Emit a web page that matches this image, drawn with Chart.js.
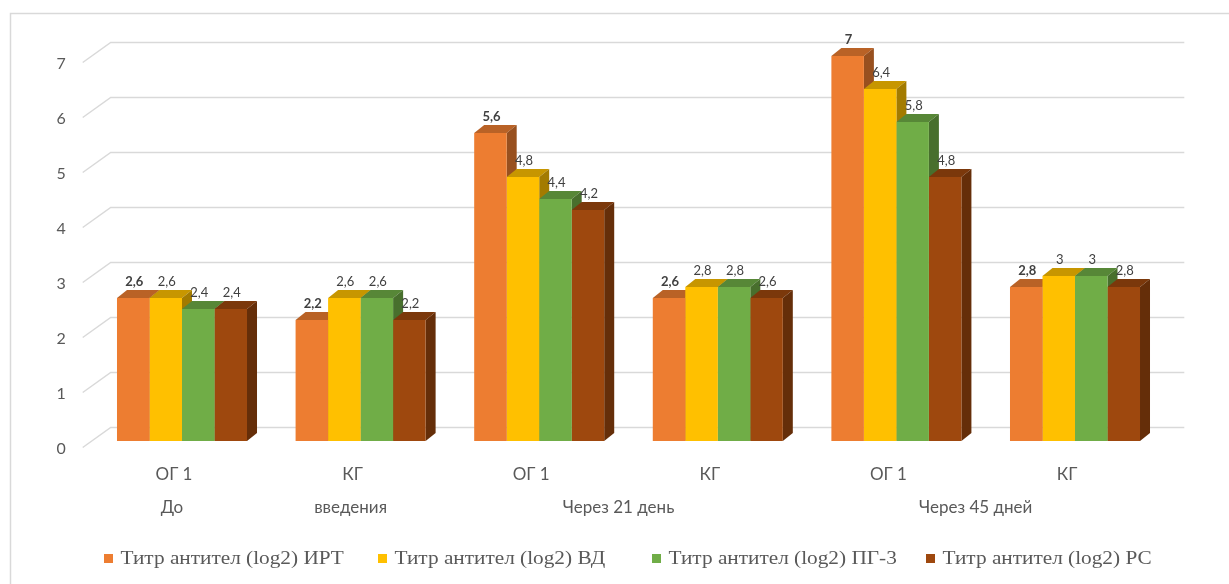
<!DOCTYPE html>
<html>
<head>
<meta charset="utf-8">
<script src="https://cdn.jsdelivr.net/npm/chart.js@4.4.1/dist/chart.umd.min.js"></script>
<style>
  html, body { margin: 0; padding: 0; background: #fff; }
  #wrap { width: 1229px; height: 584px; }
</style>
</head>
<body>
<div id="wrap"><canvas id="chart" width="1229" height="584"></canvas></div>
<script>
// Categories (groups of bars) and the period row underneath them
const categories = ['ОГ 1', 'КГ', 'ОГ 1', 'КГ', 'ОГ 1', 'КГ'];
const periodLabels = ['До', 'введения', 'Через 21 день', 'Через 45 дней'];
const periodSpans = [[0, 0], [1, 1], [2, 3], [4, 5]];

// Series
const seriesNames = [
  'Титр антител (log2) ИРТ',
  'Титр антител (log2) ВД',
  'Титр антител (log2) ПГ-3',
  'Титр антител (log2) РС'
];
const titerIRT = [2.6, 2.2, 5.6, 2.6, 7, 2.8];
const titerVD  = [2.6, 2.6, 4.8, 2.8, 6.4, 3];
const titerPG3 = [2.4, 2.6, 4.4, 2.8, 5.8, 3];
const titerRS  = [2.4, 2.2, 4.2, 2.6, 4.8, 2.8];

// Value axis ticks
const yTicks = [0, 1, 2, 3, 4, 5, 6, 7];

const seriesColors = ['#ED7D31', '#FFC000', '#70AD47', '#9E480E'];
const seriesValues = [titerIRT, titerVD, titerPG3, titerRS];

const AXIS_FONT = "Lato, 'Noto Sans', sans-serif";
const LEGEND_FONT = "19px 'Liberation Serif', 'Times New Roman', serif";
const TEXT_GRAY = '#595959';
const GRID_GRAY = '#d9d9d9';
const DX = 10, DY = 8;   // extrusion of the box-shaped bars

function shade(hex, f) {
  const n = parseInt(hex.slice(1), 16);
  const r = Math.round(((n >> 16) & 255) * f);
  const g = Math.round(((n >> 8) & 255) * f);
  const b = Math.round((n & 255) * f);
  return `rgb(${r},${g},${b})`;
}
function fmt(v) { return String(v).replace('.', ','); }

const boxBars = {
  id: 'boxBars',
  beforeDraw(chart) {
    const { ctx, chartArea: area } = chart;
    const y = chart.scales.y;
    ctx.save();
    ctx.fillStyle = '#fff';
    ctx.fillRect(0, 0, chart.width, chart.height);
    // outer frame
    ctx.strokeStyle = GRID_GRAY;
    ctx.lineWidth = 1.5;
    ctx.strokeRect(10.5, 13.5, chart.width + 40, chart.height + 40);
    // gridlines on the back wall with the slanted side wall segment
    yTicks.forEach(v => {
      const p = y.getPixelForValue(v);
      ctx.beginPath();
      ctx.moveTo(area.left - 10, p + 6.5);
      ctx.lineTo(area.left + 18, p - 13.5);
      ctx.lineTo(area.right + 20, p - 13.5);
      ctx.stroke();
    });
    ctx.restore();
  },
  beforeDatasetsDraw(chart) {
    const ctx = chart.ctx;
    ctx.save();
    categories.forEach((_, i) => {
      seriesValues.forEach((_, d) => {
        const el = chart.getDatasetMeta(d).data[i];
        const { x, y, base, width } = el.getProps(['x', 'y', 'base', 'width'], true);
        const l = x - width / 2, r = x + width / 2;
        const c = seriesColors[d];
        // top face
        ctx.fillStyle = shade(c, 0.78);
        ctx.beginPath();
        ctx.moveTo(l, y); ctx.lineTo(r, y);
        ctx.lineTo(r + DX, y - DY); ctx.lineTo(l + DX, y - DY);
        ctx.closePath(); ctx.fill();
        // right side face
        ctx.fillStyle = shade(c, 0.64);
        ctx.beginPath();
        ctx.moveTo(r, y); ctx.lineTo(r + DX, y - DY);
        ctx.lineTo(r + DX, base - DY); ctx.lineTo(r, base);
        ctx.closePath(); ctx.fill();
      });
    });
    ctx.restore();
  },
  afterDatasetsDraw(chart) {
    const ctx = chart.ctx;
    ctx.save();
    ctx.fillStyle = '#404040';
    ctx.textAlign = 'center';
    ctx.textBaseline = 'middle';
    seriesValues.forEach((vals, d) => {
      ctx.font = (d === 0 ? 'bold ' : '') + '13px ' + AXIS_FONT;
      chart.getDatasetMeta(d).data.forEach((el, i) => {
        const { x, y } = el.getProps(['x', 'y'], true);
        ctx.fillText(fmt(vals[i]), x + 1, y - 16);
      });
    });
    ctx.restore();
  },
  afterDraw(chart) {
    const ctx = chart.ctx;
    const xs = chart.scales.x;
    ctx.save();
    // period row under the category labels
    ctx.fillStyle = TEXT_GRAY;
    ctx.font = '17px ' + AXIS_FONT;
    ctx.textAlign = 'center';
    ctx.textBaseline = 'alphabetic';
    periodLabels.forEach((t, k) => {
      const [a, b] = periodSpans[k];
      const cx = (xs.getPixelForValue(a) + xs.getPixelForValue(b)) / 2 - 10;
      ctx.fillText(t, cx, 513);
    });

    // legend row: equal-width slots, square swatch + slightly widened serif caption
    const stretch = 1.12, box = 9, gap = 7.5, slot = 274, left = 104, midY = 558.5;
    ctx.font = LEGEND_FONT;
    ctx.textAlign = 'left';
    ctx.textBaseline = 'middle';
    seriesNames.forEach((t, d) => {
      const x = left + d * slot;
      ctx.fillStyle = seriesColors[d];
      ctx.fillRect(x, midY - box / 2, box, box);
      ctx.save();
      ctx.translate(x + box + gap, midY + 1);
      ctx.scale(stretch, 1);
      ctx.fillStyle = TEXT_GRAY;
      ctx.fillText(t, 0, 0);
      ctx.restore();
    });
    ctx.restore();
  }
};

new Chart(document.getElementById('chart'), {
  type: 'bar',
  data: {
    labels: categories,
    datasets: seriesNames.map((name, d) => ({
      label: name,
      data: seriesValues[d],
      backgroundColor: seriesColors[d],
      borderWidth: 0,
      barPercentage: 1,
      categoryPercentage: 0.728
    }))
  },
  options: {
    responsive: false,
    animation: false,
    devicePixelRatio: 1,
    events: [],
    layout: { padding: { left: 10, right: 64.7, top: 56, bottom: 66.25 } },
    scales: {
      x: {
        grid: { display: false, drawTicks: false },
        border: { display: false },
        ticks: {
          color: TEXT_GRAY,
          font: { family: AXIS_FONT, size: 17 },
          padding: 23.5,
          labelOffset: -8,
          maxRotation: 0,
          autoSkip: false
        },
        afterFit(s) { s.height = 76.75; }
      },
      y: {
        min: 0,
        max: 7,
        grid: { display: false, drawTicks: false },
        border: { display: false },
        ticks: {
          stepSize: 1,
          color: TEXT_GRAY,
          font: { family: AXIS_FONT, size: 16 },
          padding: 27,
          labelOffset: 8
        },
        afterFit(s) { s.width = 82.7; }
      }
    },
    plugins: {
      tooltip: { enabled: false },
      legend: { display: false }
    }
  },
  plugins: [boxBars]
});
</script>
</body>
</html>
